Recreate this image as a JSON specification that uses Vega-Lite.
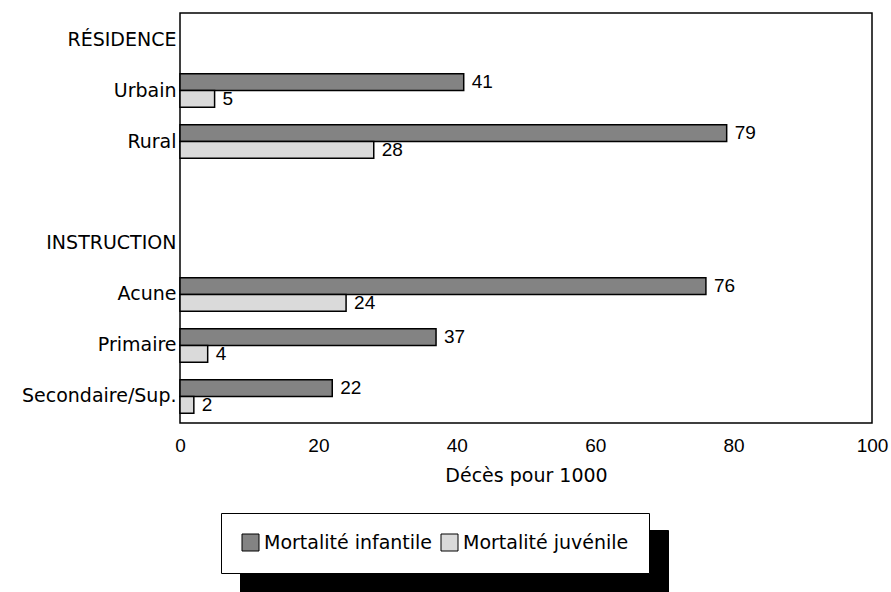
{
  "$schema": "https://vega.github.io/schema/vega-lite/v6.json",
  "autosize": {"type": "none"},
  "width": 692,
  "height": 410,
  "padding": {"left": 180, "top": 13, "right": 19, "bottom": 169},
  "background": "white",
  "config": {
    "font": "DejaVu Sans",
    "view": {"stroke": "black", "strokeWidth": 1.5},
    "text": {"font": "Liberation Sans"}
  },
  "data": {
    "values": [
      {"cat": "Urbain", "serie": "Mortalité infantile", "shadow": "Mortalité infantile", "val": 41},
      {"cat": "Urbain", "serie": "Mortalité juvénile", "shadow": "Mortalité juvénile", "val": 5},
      {"cat": "Rural", "serie": "Mortalité infantile", "shadow": "Mortalité infantile", "val": 79},
      {"cat": "Rural", "serie": "Mortalité juvénile", "shadow": "Mortalité juvénile", "val": 28},
      {"cat": "Acune", "serie": "Mortalité infantile", "shadow": "Mortalité infantile", "val": 76},
      {"cat": "Acune", "serie": "Mortalité juvénile", "shadow": "Mortalité juvénile", "val": 24},
      {"cat": "Primaire", "serie": "Mortalité infantile", "shadow": "Mortalité infantile", "val": 37},
      {"cat": "Primaire", "serie": "Mortalité juvénile", "shadow": "Mortalité juvénile", "val": 4},
      {"cat": "Secondaire/Sup.", "serie": "Mortalité infantile", "shadow": "Mortalité infantile", "val": 22},
      {"cat": "Secondaire/Sup.", "serie": "Mortalité juvénile", "shadow": "Mortalité juvénile", "val": 2}
    ]
  },
  "encoding": {
    "y": {
      "field": "cat",
      "type": "nominal",
      "scale": {
        "domain": ["RÉSIDENCE", "Urbain", "Rural", " ", "INSTRUCTION", "Acune", "Primaire", "Secondaire/Sup."],
        "paddingInner": 0.34,
        "paddingOuter": 0.19
      },
      "axis": {
        "title": null,
        "domain": false,
        "ticks": false,
        "labelFont": "DejaVu Sans",
        "labelFontSize": 19,
        "labelColor": "black",
        "labelPadding": 4,
        "labelLimit": 300
      }
    },
    "yOffset": {
      "field": "serie",
      "type": "nominal",
      "scale": {"domain": ["Mortalité infantile", "Mortalité juvénile"], "paddingInner": 0, "paddingOuter": 0}
    },
    "x": {
      "field": "val",
      "type": "quantitative",
      "scale": {"domain": [0, 100], "nice": false},
      "axis": {
        "title": "Décès pour 1000",
        "values": [0, 20, 40, 60, 80, 100],
        "grid": false,
        "domain": false,
        "ticks": false,
        "labelFont": "Liberation Sans",
        "labelFontSize": 19,
        "labelColor": "black",
        "labelPadding": 13,
        "labelFlush": false,
        "titleFont": "DejaVu Sans",
        "titleFontSize": 19,
        "titleFontWeight": "normal",
        "titleColor": "black",
        "titlePadding": 11
      }
    }
  },
  "layer": [
    {
      "mark": {"type": "bar", "stroke": "black", "strokeWidth": 1.5},
      "encoding": {
        "color": {
          "field": "serie",
          "type": "nominal",
          "scale": {"domain": ["Mortalité infantile", "Mortalité juvénile"], "range": ["#838383", "#dadada"]},
          "legend": {
            "title": null,
            "orient": "none",
            "legendX": 41,
            "legendY": 500,
            "direction": "horizontal",
            "fillColor": "white",
            "strokeColor": "black",
            "padding": 20,
            "symbolType": "square",
            "symbolSize": 289,
            "symbolStrokeColor": "black",
            "symbolStrokeWidth": 1,
            "symbolOpacity": 1,
            "labelFont": "DejaVu Sans",
            "labelFontSize": 19,
            "labelColor": "black",
            "labelOffset": 4,
            "labelLimit": 300,
            "columnPadding": 6,
            "zindex": 2
          }
        },
        "strokeDash": {
          "field": "shadow",
          "type": "nominal",
          "scale": {"range": [[1, 0], [1, 0]]},
          "legend": {
            "title": null,
            "orient": "none",
            "legendX": 60,
            "legendY": 517,
            "direction": "horizontal",
            "fillColor": "black",
            "strokeColor": "black",
            "padding": 20,
            "symbolType": "square",
            "symbolSize": 484,
            "symbolFillColor": "black",
            "symbolStrokeColor": "black",
            "labelExpr": "''",
            "labelOffset": 0,
            "labelFontSize": 1,
            "columnPadding": 334,
            "zindex": 1
          }
        }
      }
    },
    {
      "mark": {"type": "text", "align": "left", "baseline": "middle", "dx": 8, "fontSize": 19, "color": "black", "font": "Liberation Sans"},
      "encoding": {
        "text": {"field": "val", "type": "quantitative"}
      }
    }
  ]
}
